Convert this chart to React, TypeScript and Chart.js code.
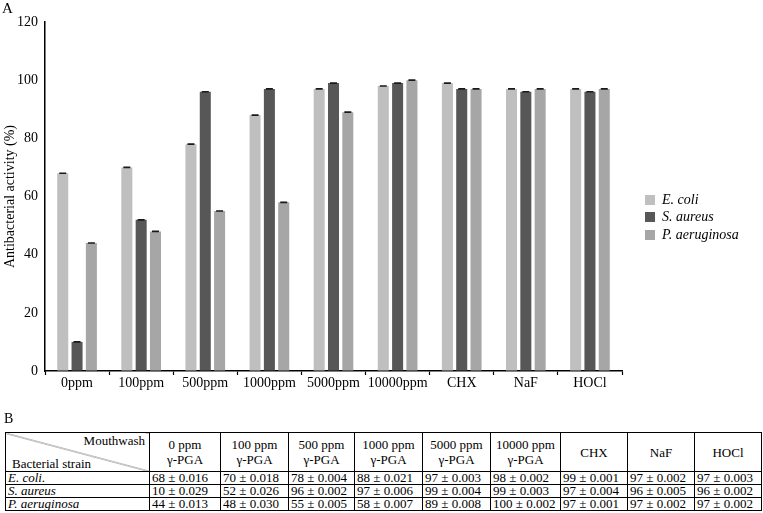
import React, { useEffect, useRef } from "react";
import { Chart, registerables } from "chart.js";

Chart.register(...registerables);

const categories = ["0ppm", "100ppm", "500ppm", "1000ppm", "5000ppm", "10000ppm", "CHX", "NaF", "HOCl"];
const seriesNames = ["E. coli", "S. aureus", "P. aeruginosa"];
const eColi = [68, 70, 78, 88, 97, 98, 99, 97, 97];
const sAureus = [10, 52, 96, 97, 99, 99, 97, 96, 96];
const pAeruginosa = [44, 48, 55, 58, 89, 100, 97, 97, 97];
const eColiErr = [0.016, 0.018, 0.004, 0.021, 0.003, 0.002, 0.001, 0.002, 0.003];
const sAureusErr = [0.029, 0.026, 0.002, 0.006, 0.004, 0.003, 0.004, 0.005, 0.002];
const pAeruginosaErr = [0.013, 0.03, 0.005, 0.007, 0.008, 0.002, 0.001, 0.002, 0.002];
const colors = ["#bfbfbf", "#575757", "#a6a6a6"];
const yTicks = [0, 20, 40, 60, 80, 100, 120];

const tableHeaders = [
  ["0 ppm", "γ-PGA"],
  ["100 ppm", "γ-PGA"],
  ["500 ppm", "γ-PGA"],
  ["1000 ppm", "γ-PGA"],
  ["5000 ppm", "γ-PGA"],
  ["10000 ppm", "γ-PGA"],
  ["CHX"],
  ["NaF"],
  ["HOCl"],
];
const tableRowNames = ["E. coli.", "S. aureus", "P. aeruginosa"];
const colWidths = [144, 71, 68, 66, 68, 68, 70, 67, 67, 67];

const values = [eColi, sAureus, pAeruginosa];
const errors = [eColiErr, sAureusErr, pAeruginosaErr];

const FONT = "'Liberation Serif', 'Times New Roman', serif";

const errorBarPlugin = {
  id: "errorBars",
  afterDatasetsDraw(chart: any) {
    const ctx = chart.ctx;
    const yScale = chart.scales.y;
    chart.data.datasets.forEach((ds: any, di: number) => {
      const meta = chart.getDatasetMeta(di);
      meta.data.forEach((bar: any, i: number) => {
        const v = ds.data[i];
        const e = errors[di][i];
        const yt = yScale.getPixelForValue(v + e);
        const yb = yScale.getPixelForValue(v - e);
        ctx.save();
        ctx.strokeStyle = "#1a1a1a";
        ctx.lineWidth = 1.6;
        ctx.beginPath();
        ctx.moveTo(bar.x - 3.5, yt);
        ctx.lineTo(bar.x + 3.5, yt);
        ctx.moveTo(bar.x, yt);
        ctx.lineTo(bar.x, yb);
        ctx.moveTo(bar.x - 3.5, yb);
        ctx.lineTo(bar.x + 3.5, yb);
        ctx.stroke();
        ctx.restore();
      });
    });
  },
};

export default function App() {
  const ref = useRef<HTMLCanvasElement | null>(null);

  useEffect(() => {
    if (!ref.current) return;
    const chart = new Chart(ref.current, {
      type: "bar",
      data: {
        labels: categories,
        datasets: values.map((d, i) => ({
          label: seriesNames[i],
          data: d,
          backgroundColor: colors[i],
          borderWidth: 0,
          categoryPercentage: 0.67,
          barPercentage: 0.77,
        })),
      },
      options: {
        responsive: false,
        animation: false,
        layout: { padding: { left: 0, right: 141, top: 22, bottom: 0 } },
        plugins: {
          legend: { display: false },
          tooltip: { enabled: false },
        },
        scales: {
          x: {
            offset: true,
            grid: {
              offset: true,
              drawOnChartArea: false,
              drawTicks: true,
              tickLength: 4,
              tickColor: "#000",
              tickWidth: 1.2,
            },
            border: { color: "#000", width: 1.5 },
            ticks: {
              color: "#000",
              font: { family: FONT, size: 14 },
              padding: 0,
              maxRotation: 0,
              autoSkip: false,
            },
            afterFit: (s: any) => {
              s.height = 29;
            },
          },
          y: {
            min: 0,
            max: 120,
            afterBuildTicks: (s: any) => {
              s.ticks = yTicks.map((v) => ({ value: v }));
            },
            grid: {
              drawOnChartArea: false,
              drawTicks: false,
            },
            border: { color: "#000", width: 1.5 },
            ticks: {
              color: "#000",
              font: { family: FONT, size: 14 },
              padding: 7,
            },
            title: {
              display: true,
              text: "Antibacterial activity (%)",
              color: "#000",
              font: { family: FONT, size: 14 },
              padding: { top: 2, bottom: 0 },
            },
            afterFit: (s: any) => {
              s.width = 45;
            },
          },
        },
      },
      plugins: [errorBarPlugin],
    });
    return () => chart.destroy();
  }, []);

  const border = "1px solid #000";

  return (
    <div
      style={{
        position: "absolute",
        left: 0,
        top: 0,
        width: 763,
        height: 513,
        background: "#fff",
        fontFamily: FONT,
        color: "#000",
        overflow: "hidden",
      }}
    >
      <canvas
        ref={ref}
        width={763}
        height={400}
        style={{ position: "absolute", left: 0, top: 0, width: 763, height: 400 }}
      />
      <div style={{ position: "absolute", left: 2, top: -1, fontSize: 15, lineHeight: "18px" }}>A</div>
      <div style={{ position: "absolute", left: 645, top: 191 }}>
        {seriesNames.map((n, i) => (
          <div key={n} style={{ display: "flex", alignItems: "center", height: 17.5 }}>
            <div style={{ width: 10, height: 10, background: colors[i], marginRight: 7 }} />
            <span style={{ fontStyle: "italic", fontSize: 14, lineHeight: "16px" }}>{n}</span>
          </div>
        ))}
      </div>
      <div style={{ position: "absolute", left: 4, top: 411, fontSize: 14, lineHeight: "16px" }}>B</div>
      <table
        style={{
          position: "absolute",
          left: 5,
          top: 432,
          borderCollapse: "collapse",
          tableLayout: "fixed",
          width: 756,
          fontSize: 13,
          fontFamily: FONT,
        }}
      >
        <colgroup>
          {colWidths.map((w, i) => (
            <col key={i} style={{ width: w }} />
          ))}
        </colgroup>
        <tbody>
          <tr style={{ height: 39 }}>
            <td
              style={{
                border,
                padding: 0,
                position: "relative",
                background:
                  "linear-gradient(to top right, transparent calc(50% - 0.8px), #777 50%, transparent calc(50% + 0.8px))",
              }}
            >
              <div style={{ position: "absolute", right: 4, top: 1, lineHeight: "14px" }}>Mouthwash</div>
              <div style={{ position: "absolute", left: 6, bottom: 0, lineHeight: "14px" }}>Bacterial strain</div>
            </td>
            {tableHeaders.map((h, i) => (
              <td key={i} style={{ border, padding: 0, textAlign: "center", lineHeight: "15px" }}>
                {h.map((line, j) => (
                  <div key={j}>{line}</div>
                ))}
              </td>
            ))}
          </tr>
          {tableRowNames.map((rn, r) => (
            <tr key={rn} style={{ height: 13 }}>
              <td style={{ border, padding: "0 2px", fontStyle: "italic", lineHeight: "12px", whiteSpace: "nowrap" }}>
                {rn}
              </td>
              {values[r].map((v, c) => (
                <td
                  key={c}
                  style={{ border, padding: "0 2px", lineHeight: "12px", whiteSpace: "nowrap" }}
                >
                  {`${v} ± ${errors[r][c].toFixed(3)}`}
                </td>
              ))}
            </tr>
          ))}
        </tbody>
      </table>
    </div>
  );
}
